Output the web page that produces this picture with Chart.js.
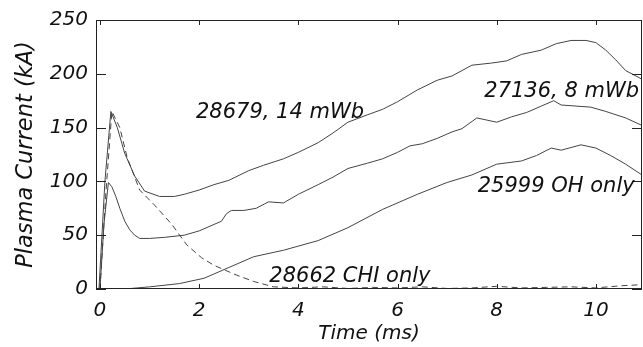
<!DOCTYPE html>
<html>
<head>
<meta charset="utf-8">
<script src="https://cdn.jsdelivr.net/npm/chart.js@4.4.0/dist/chart.umd.min.js"></script>
<style>
  html, body { margin: 0; padding: 0; background: #fff; }
  canvas { display: block; }
</style>
</head>
<body>
<canvas id="plasmaChart" width="643" height="347"></canvas>
<script>
// shot 28679, 14 mWb
const t28679 = [-0.02, 0.1, 0.22, 0.35, 0.5, 0.7, 0.9, 1.2, 1.5, 1.7, 2.0, 2.3, 2.6, 3.0, 3.3, 3.7, 4.0, 4.4, 4.7, 5.0, 5.4, 5.7, 6.0, 6.4, 6.8, 7.1, 7.5, 7.9, 8.2, 8.5, 8.9, 9.2, 9.5, 9.8, 10.0, 10.2, 10.4, 10.6, 10.93];
const i28679 = [0, 100, 165, 150, 126, 105, 91, 86, 86, 88, 92, 97, 101, 110, 115, 121, 127, 136, 145, 155, 162, 167, 174, 185, 194, 198, 208, 210, 212, 218, 222, 228, 231, 231, 229, 222, 213, 203, 195];

// shot 27136, 8 mWb
const t27136 = [0, 0.08, 0.17, 0.24, 0.32, 0.4, 0.5, 0.6, 0.7, 0.8, 1.0, 1.3, 1.7, 2.0, 2.2, 2.45, 2.55, 2.65, 2.9, 3.15, 3.4, 3.7, 4.0, 4.4, 4.7, 5.0, 5.4, 5.7, 6.0, 6.25, 6.5, 6.8, 7.1, 7.3, 7.6, 7.8, 8.0, 8.3, 8.6, 8.9, 9.15, 9.3, 9.6, 9.9, 10.2, 10.6, 10.93];
const i27136 = [0, 60, 99, 95, 86, 75, 63, 55, 50, 47, 47, 48, 50, 54, 58, 63, 70, 73, 73, 75, 81, 80, 88, 97, 104, 112, 117, 121, 127, 133, 135, 140, 146, 149, 159, 157, 155, 160, 164, 170, 175, 171, 170, 169, 165, 159, 152];

// shot 25999, OH only
const t25999 = [0, 0.5, 1.0, 1.6, 2.1, 2.6, 3.1, 3.7, 4.4, 5.0, 5.7, 6.4, 7.0, 7.5, 8.0, 8.5, 8.8, 9.1, 9.3, 9.7, 10.0, 10.3, 10.6, 10.93];
const i25999 = [0, 0, 2, 5, 10, 20, 30, 36, 45, 57, 74, 88, 99, 106, 116, 119, 124, 131, 129, 134, 131, 124, 116, 106];

// shot 28662, CHI only (dashed)
const t28662 = [0, 0.12, 0.24, 0.4, 0.55, 0.8, 1.1, 1.45, 1.75, 2.05, 2.3, 2.75, 3.1, 3.5, 4.0, 4.5, 5.0, 5.5, 6.0, 6.5, 7.0, 7.5, 8.0, 8.5, 9.0, 9.5, 10.0, 10.5, 10.93];
const i28662 = [0, 90, 165, 150, 122, 92, 78, 60, 41, 29, 22, 13, 7, 2, 1, 2, 0.5, 1.5, 1, 2, 0.5, 1, 2.5, 1, 1.5, 2, 1, 3, 4];

const xTicks = [0, 2, 4, 6, 8, 10];
const yTicks = [0, 50, 100, 150, 200, 250];

// curve labels, placed in data units (time, current at text baseline)
const labelText = ["28679, 14 mWb", "27136, 8 mWb", "25999 OH only", "28662 CHI only"];
const labelT = [3.63, 9.31, 9.2, 5.04];
const labelI = [159, 178.5, 89.7, 6.7];

const FONT = "'DejaVu Sans', 'Liberation Sans', sans-serif";

function pts(ts, vs) {
  return ts.map((t, k) => ({ x: t, y: vs[k] }));
}

function series(ts, vs, dash) {
  return {
    data: pts(ts, vs),
    borderColor: "#444",
    borderWidth: 1,
    borderDash: dash,
    pointRadius: 0,
    tension: 0,
    fill: false,
  };
}

const framePlugin = {
  id: "frame",
  afterDatasetsDraw(chart) {
    const ctx = chart.ctx;
    const a = chart.chartArea;
    const xs = chart.scales.x;
    const ys = chart.scales.y;
    ctx.save();
    ctx.strokeStyle = "#222";
    ctx.lineWidth = 1;
    ctx.strokeRect(a.left + 0.5, a.top + 0.5, a.right - a.left - 1, a.bottom - a.top - 1);
    ctx.beginPath();
    xTicks.forEach((v) => {
      const px = Math.round(xs.getPixelForValue(v)) + 0.5;
      ctx.moveTo(px, a.bottom);
      ctx.lineTo(px, a.bottom - 5);
      ctx.moveTo(px, a.top);
      ctx.lineTo(px, a.top + 5);
    });
    yTicks.forEach((v) => {
      const py = Math.round(ys.getPixelForValue(v)) + 0.5;
      ctx.moveTo(a.left, py);
      ctx.lineTo(a.left + 10, py);
      ctx.moveTo(a.right, py);
      ctx.lineTo(a.right - 10, py);
    });
    ctx.stroke();

    ctx.fillStyle = "#111";
    ctx.font = "italic 21px " + FONT;
    ctx.textAlign = "center";
    ctx.textBaseline = "alphabetic";
    labelText.forEach((txt, k) => {
      ctx.fillText(txt, xs.getPixelForValue(labelT[k]), ys.getPixelForValue(labelI[k]));
    });
    ctx.restore();
  },
};

new Chart(document.getElementById("plasmaChart"), {
  type: "line",
  data: {
    datasets: [
      series(t25999, i25999, []),
      series(t27136, i27136, []),
      series(t28679, i28679, []),
      series(t28662, i28662, [6, 4]),
    ],
  },
  options: {
    responsive: false,
    animation: false,
    devicePixelRatio: 1,
    layout: { padding: { left: 0, top: 16, right: 1, bottom: 0 } },
    plugins: { legend: { display: false }, tooltip: { enabled: false } },
    scales: {
      x: {
        type: "linear",
        min: -0.08,
        max: 10.93,
        grid: { display: false, drawTicks: false },
        border: { display: false },
        afterBuildTicks: (s) => { s.ticks = xTicks.map((v) => ({ value: v })); },
        afterFit: (s) => { s.height = 58; },
        ticks: {
          padding: 10,
          color: "#111",
          font: { family: FONT, size: 20, style: "italic" },
        },
        title: {
          display: true,
          text: "Time (ms)",
          color: "#111",
          padding: { top: 0, bottom: 1 },
          font: { family: FONT, size: 20, style: "italic" },
        },
      },
      y: {
        min: 0,
        max: 250,
        grid: { display: false, drawTicks: false },
        border: { display: false },
        afterBuildTicks: (s) => { s.ticks = yTicks.map((v) => ({ value: v })); },
        afterFit: (s) => { s.width = 96; },
        ticks: {
          padding: 8,
          color: "#111",
          font: { family: FONT, size: 20, style: "italic" },
        },
        title: {
          display: true,
          text: "Plasma Current (kA)",
          color: "#111",
          padding: { top: 13, bottom: 0 },
          font: { family: FONT, size: 22.5, style: "italic" },
        },
      },
    },
  },
  plugins: [framePlugin],
});
</script>
</body>
</html>
